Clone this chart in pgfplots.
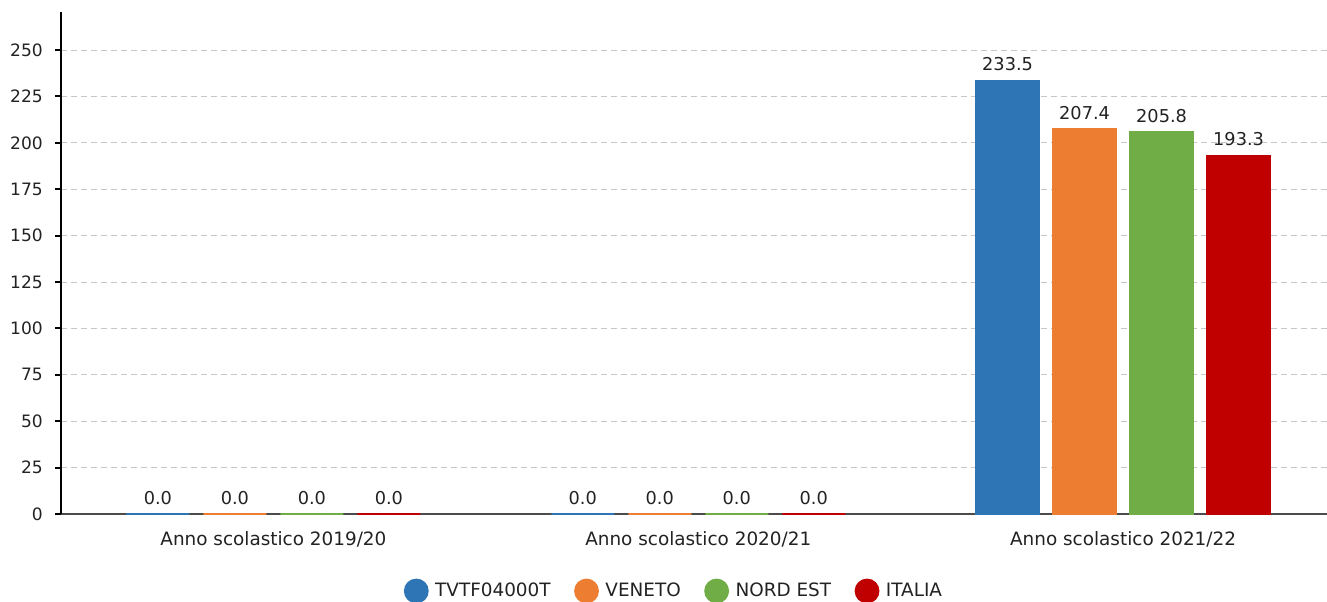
\documentclass[border=0pt]{standalone}
\usepackage{pgfplots}
\pgfplotsset{compat=1.18}
\usepackage{fontspec}
\setmainfont{DejaVu Sans}
\definecolor{c1}{HTML}{2E75B6}
\definecolor{c2}{HTML}{ED7D31}
\definecolor{c3}{HTML}{70AD47}
\definecolor{c4}{HTML}{C00000}
\definecolor{txt}{HTML}{222222}
\begin{document}
\begin{tikzpicture}
\begin{axis}[
 set layers,
 scale only axis, width=949.5pt, height=376.5pt,
 xmin=-0.5, xmax=2.48, ymin=0, ymax=270.5,
 clip=false,
 axis x line=bottom, axis y line=left,
 axis line style={-},
 x axis line style={draw=black!70, line width=1.1pt},
 y axis line style={draw=black, line width=1.5pt},
 xtick={0,1,2},
 xticklabels={Anno scolastico 2019/20, Anno scolastico 2020/21, Anno scolastico 2021/22},
 ytick={0,25,...,250},
 tick align=outside, major tick length=4.5pt,
 x tick style={draw=none},
 y tick style={draw=black, line width=1.5pt},
 ymajorgrids,
 grid style={dash pattern=on 4.5pt off 3pt, color=black!22, line width=0.75pt},
 /pgf/number format/assume math mode=true,
 yticklabel style={font=\fontsize{12.8}{15}\selectfont, text=txt, inner sep=0pt, xshift=-9pt},
 xticklabel style={font=\fontsize{13.8}{16}\selectfont, text=txt, inner sep=0pt, anchor=north, yshift=-8.6pt},
 ybar=10.5pt, bar width=47.25pt,
 nodes near coords={\pgfmathprintnumber[fixed,fixed zerofill,precision=1]{\pgfplotspointmeta}},
 nodes near coords style={font=\fontsize{13.3}{16}\selectfont, text=txt, anchor=south, inner sep=0pt, yshift=6.75pt},
 legend style={draw=none, fill=none, at={(0.4834,-0.1534)}, anchor=center, legend columns=4,
   font=\fontsize{13.8}{16}\selectfont, text=txt,
   /tikz/every even column/.append style={column sep=17.6pt}, nodes={inner sep=0pt}},
]
\addplot[fill=c1, draw=c1, line width=1pt, legend image code/.code={\fill[c1] (0pt,0pt) circle (8.8pt); \path (13.7pt,0pt);}] coordinates {(0,0) (1,0) (2,233.5)};
\addplot[fill=c2, draw=c2, line width=1pt, legend image code/.code={\fill[c2] (0pt,0pt) circle (8.8pt); \path (13.7pt,0pt);}] coordinates {(0,0) (1,0) (2,207.4)};
\addplot[fill=c3, draw=c3, line width=1pt, legend image code/.code={\fill[c3] (0pt,0pt) circle (8.8pt); \path (13.7pt,0pt);}] coordinates {(0,0) (1,0) (2,205.8)};
\addplot[fill=c4, draw=c4, line width=1pt, legend image code/.code={\fill[c4] (0pt,0pt) circle (8.8pt); \path (13.7pt,0pt);}] coordinates {(0,0) (1,0) (2,193.3)};
\legend{TVTF04000T, VENETO, NORD EST, ITALIA}
\end{axis}
\pgfresetboundingbox
\path (-45.75pt,-66pt) rectangle (949.5pt,385.5pt);
\end{tikzpicture}
\end{document}
